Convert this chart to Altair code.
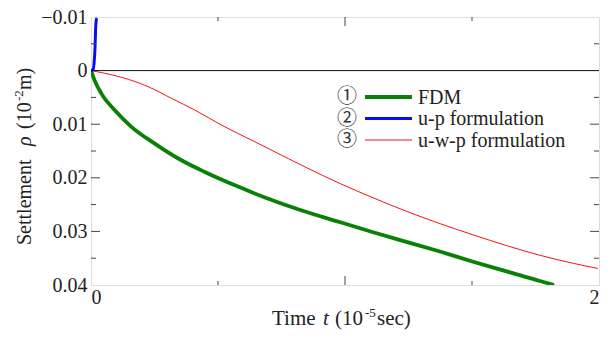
import altair as alt
import pandas as pd

# ---- data ----
fdm_t = [0.0, 0.0145, 0.041, 0.093, 0.159, 0.251, 0.356, 0.448, 0.567, 0.698, 0.830,
         0.982, 1.114, 1.245, 1.377, 1.508, 1.640, 1.771, 1.817]
fdm_s = [0.0, 0.00187, 0.0043, 0.00737, 0.01049, 0.01361, 0.01673, 0.01891, 0.02141,
         0.02391, 0.0261, 0.0283, 0.0302, 0.0320, 0.0338, 0.0357, 0.0375, 0.0393, 0.0399]

up_t = [0.0, 0.009, 0.013, 0.016, 0.018, 0.021]
up_s = [0.0, -0.00026, -0.0020, -0.0045, -0.0076, -0.0096]

uwp_t = [0.0, 0.054, 0.120, 0.225, 0.317, 0.409, 0.514, 0.646, 0.777, 0.909,
         0.982, 1.114, 1.245, 1.377, 1.508, 1.640, 1.771, 1.903, 1.994]
uwp_s = [0.0, 0.0005, 0.00125, 0.0030, 0.00518, 0.00737, 0.01017, 0.0133, 0.01642, 0.0195,
         0.0211, 0.0238, 0.0263, 0.0286, 0.0307, 0.0327, 0.0345, 0.0360, 0.0369]

y_major = [-0.01, 0.0, 0.01, 0.02, 0.03, 0.04]
y_minor = [-0.005, 0.005, 0.015, 0.025, 0.035]
y_inner_major = [0.01, 0.02, 0.03]
x_major = [0, 1, 2]
x_inner_major = [1]
x_minor = [0.5, 1.5]

legend_nums = ["①", "②", "③"]
legend_labels = ["FDM", "u-p formulation", "u-w-p formulation"]
legend_colors = ["#078207", "#0b0bf5", "#f01414"]
legend_widths = [3.8, 3.0, 1.0]

W, H = 508, 268
SERIF = "Liberation Serif, Times New Roman, serif"
TXT = "#222"

x_scale = alt.Scale(domain=[0, 2], nice=False, zero=False)
y_scale = alt.Scale(domain=[-0.01, 0.04], reverse=True, nice=False, zero=False)

def series(t, s, color, width):
    df = pd.DataFrame({"t": t, "s": s, "i": range(len(t))})
    return alt.Chart(df).mark_line(color=color, strokeWidth=width, clip=True,
                                   interpolate="monotone",
                                   strokeJoin="round", strokeCap="round").encode(
        x=alt.X("t:Q", scale=x_scale,
                axis=alt.Axis(values=x_major, format="d", title=None, ticks=False,
                              domain=False, grid=False, labelFont=SERIF, labelFontSize=20,
                              labelColor=TXT, labelPadding=2)),
        y=alt.Y("s:Q", scale=y_scale,
                axis=alt.Axis(values=y_major, title=None, ticks=False, domain=False,
                              grid=False, labelFont=SERIF, labelFontSize=20,
                              labelColor=TXT, labelPadding=4,
                              labelExpr="datum.value == 0 ? '0' : format(datum.value, '.2f')")),
        order="i:Q",
    )

red = series(uwp_t, uwp_s, legend_colors[2], legend_widths[2])
green = series(fdm_t, fdm_s, legend_colors[0], legend_widths[0])
blue = series(up_t, up_s, legend_colors[1], legend_widths[1])

zero_line = alt.Chart(pd.DataFrame({"s": [0.0]})).mark_rule(color="#111", strokeWidth=1).encode(
    y=alt.Y("s:Q", scale=y_scale), x=alt.value(0), x2=alt.value(W))

def yticks(vals, length, side):
    df = pd.DataFrame({"s": vals})
    if side == "left":
        xs = dict(x=alt.value(0), x2=alt.value(length))
    else:
        xs = dict(x=alt.value(W - length), x2=alt.value(W))
    return alt.Chart(df).mark_rule(color="#444", strokeWidth=1).encode(
        y=alt.Y("s:Q", scale=y_scale), **xs)

def xticks(vals, length, side):
    df = pd.DataFrame({"t": vals})
    if side == "bottom":
        ys = dict(y=alt.value(H - length), y2=alt.value(H))
    else:
        ys = dict(y=alt.value(0), y2=alt.value(length))
    return alt.Chart(df).mark_rule(color="#444", strokeWidth=1).encode(
        x=alt.X("t:Q", scale=x_scale), **ys)

ticks = [
    yticks(y_minor, 5, "left"), yticks(y_inner_major, 9, "left"),
    yticks(y_minor, 5, "right"), yticks(y_inner_major, 9, "right"),
    xticks(x_minor, 4, "bottom"), xticks(x_inner_major, 9, "bottom"),
    xticks(x_minor, 4, "top"), xticks(x_inner_major, 9, "top"),
]

dummy = pd.DataFrame({"a": [0]})

def txt(text, x, y, size, align="left", font=SERIF, style="normal", angle=0, color=TXT):
    kw = dict(text=text, font=font, fontSize=size, color=color, align=align,
              baseline="alphabetic", fontStyle=style)
    if angle:
        kw["angle"] = angle
    return alt.Chart(dummy).mark_text(**kw).encode(x=alt.value(x), y=alt.value(y))

# legend
legend_layers = []
for k in range(3):
    yy = 80 + k * 21.5
    legend_layers.append(alt.Chart(dummy).mark_text(
        text=legend_nums[k], font="Noto Sans CJK JP", fontSize=20, color="#333",
        align="center", baseline="middle").encode(x=alt.value(256), y=alt.value(yy)))
    legend_layers.append(alt.Chart(dummy).mark_rule(
        color=legend_colors[k], strokeWidth=legend_widths[k]).encode(
        x=alt.value(274), x2=alt.value(321), y=alt.value(yy)))
    legend_layers.append(txt(legend_labels[k], 327, yy + 6.5, 20))

# x axis title: "Time t (10^-5 sec)"
xt = 181
xtitle = [
    txt("Time", xt, 308, 21),
    txt("t", xt + 51, 308, 21, style="italic"),
    txt("(10", xt + 63, 308, 21),
    txt("-5", xt + 93, 300, 13),
    txt("sec)", xt + 105, 308, 21),
]
# y axis title (rotated)
yx = -60
ytitle = [
    txt("Settlement", yx, 228, 20, angle=270),
    txt("ρ", yx, 129, 20, angle=270, style="italic"),
    txt("(10", yx, 112, 20, angle=270),
    txt("-2", yx - 8, 84, 13, angle=270),
    txt("m)", yx, 73, 20, angle=270),
]

chart = alt.layer(red, green, blue, zero_line, *ticks, *legend_layers, *xtitle, *ytitle).properties(
    width=W, height=H,
    autosize=alt.AutoSizeParams(type="none"),
    padding={"left": 91, "top": 17, "right": 11, "bottom": 57},
).configure_view(stroke="#555", strokeWidth=1).configure(background="white")

chart.save("out.html", embed_options={"renderer": "svg", "actions": False})
